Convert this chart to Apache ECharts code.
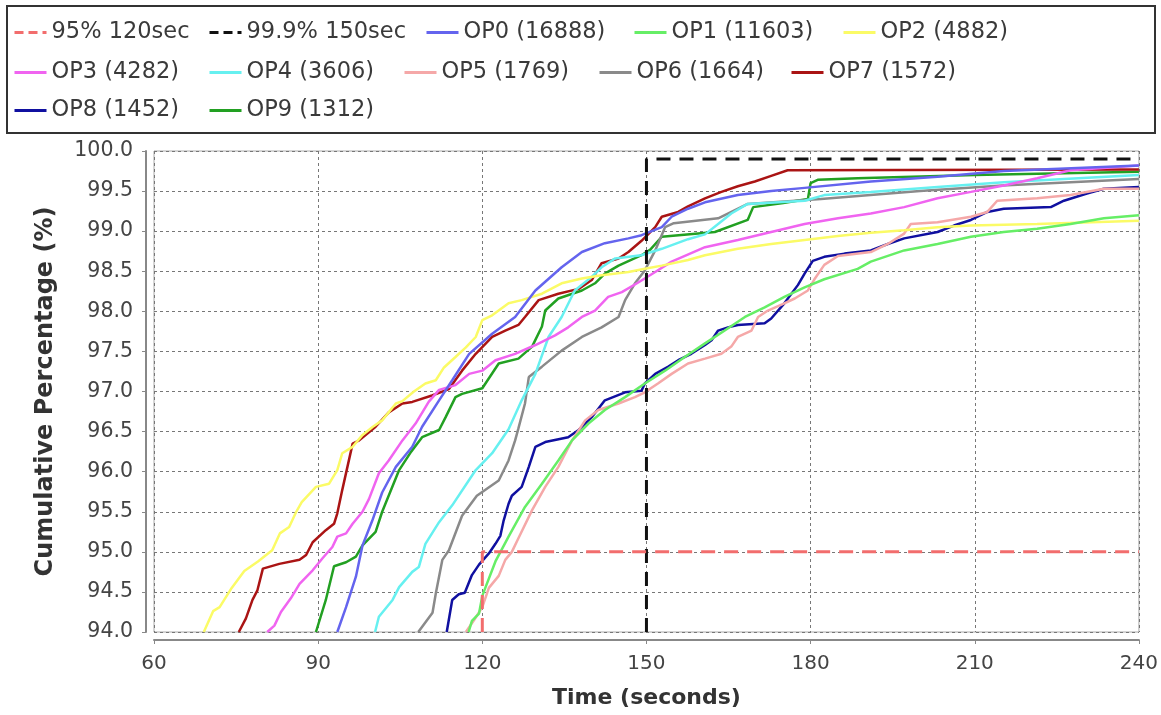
<!DOCTYPE html>
<html>
<head>
<meta charset="utf-8">
<script src="https://cdn.jsdelivr.net/npm/echarts@6/dist/echarts.min.js"></script>
<style>
html,body{margin:0;padding:0;background:#fff;}
#chart{width:1161px;height:715px;}
</style>
</head>
<body>
<div id="chart"></div>
<script>
// ---- data: [time (s), cumulative %] ----
const seriesNames = ['95% 120sec', '99.9% 150sec', 'OP0 (16888)', 'OP1 (11603)', 'OP2 (4882)', 'OP3 (4282)', 'OP4 (3606)', 'OP5 (1769)', 'OP6 (1664)', 'OP7 (1572)', 'OP8 (1452)', 'OP9 (1312)'];
const xTicks = [60, 90, 120, 150, 180, 210, 240];
const yTicks = [94.0, 94.5, 95.0, 95.5, 96.0, 96.5, 97.0, 97.5, 98.0, 98.5, 99.0, 99.5, 100.0];

const ref95 = [[120, 94], [120, 95], [240, 95]];
const ref999 = [[150, 94], [150, 99.9], [240, 99.9]];

const op0 = [[93.5,94.0],[95.1,94.31],[96.9,94.69],[98.1,95.08],[99.9,95.39],[101.7,95.74],[104.2,96.06],[107.2,96.31],[109,96.56],[112.1,96.89],[114.5,97.14],[117.6,97.47],[121.8,97.72],[126,97.93],[129.7,98.26],[134.5,98.55],[138.2,98.74],[142.4,98.85],[146.7,98.91],[149.1,98.95],[152.8,99.05],[154.6,99.18],[157.6,99.28],[160.7,99.36],[166.7,99.45],[172.8,99.5],[178.9,99.54],[191,99.62],[203.2,99.68],[215.3,99.75],[240,99.82]];
const op1 = [[117.5,94.0],[118.1,94.14],[119.4,94.23],[120,94.45],[120.6,94.56],[122.4,94.88],[124.8,95.19],[127.8,95.56],[130.9,95.85],[133.9,96.14],[136.4,96.39],[139.4,96.6],[142.4,96.77],[146.1,96.93],[149.7,97.1],[153.4,97.26],[157,97.43],[160.7,97.6],[164.3,97.76],[168,97.93],[171.6,98.05],[175.2,98.18],[178.9,98.3],[182.5,98.4],[188.6,98.53],[191,98.62],[197.1,98.76],[203.2,98.84],[209.3,98.93],[215.3,98.99],[221.4,99.03],[227.5,99.09],[233.6,99.16],[240,99.2]];
const op2 = [[69.1,94.0],[70.8,94.26],[72,94.31],[74.2,94.55],[76.5,94.76],[79,94.88],[81.6,95.02],[83,95.23],[84.7,95.31],[86,95.5],[87,95.62],[89.6,95.81],[92,95.85],[93.5,96.02],[94.4,96.23],[96.3,96.31],[98,96.45],[100,96.56],[101.7,96.64],[104.2,96.85],[105.4,96.88],[107.5,97.0],[109.6,97.1],[111.5,97.14],[113,97.3],[115.1,97.43],[117,97.55],[118.8,97.68],[120,97.89],[121.8,97.95],[124.8,98.1],[127.2,98.14],[130.9,98.22],[134.5,98.35],[138.2,98.41],[141.8,98.45],[146.7,98.49],[149.7,98.53],[152.8,98.57],[157.6,98.64],[160.7,98.7],[166.7,98.78],[172.8,98.84],[178.9,98.89],[185,98.94],[191,98.98],[197.1,99.01],[203.2,99.05],[209.3,99.07],[221.4,99.09],[240,99.13]];
const op3 = [[80.7,94.0],[82,94.08],[83.2,94.25],[85,94.42],[86.6,94.6],[89,94.77],[90.8,94.92],[92.6,95.06],[93.5,95.19],[95.1,95.23],[96.3,95.35],[98.1,95.5],[99.3,95.66],[101.1,95.98],[102.9,96.14],[105.4,96.39],[107.8,96.6],[110.2,96.87],[112.1,97.02],[115.1,97.08],[117.6,97.22],[120,97.26],[122.4,97.39],[126,97.47],[129.7,97.58],[133.3,97.7],[135.7,97.8],[138.2,97.93],[140.6,98.01],[143,98.18],[145.5,98.24],[148.5,98.36],[151.6,98.49],[154.6,98.62],[160.7,98.8],[166.7,98.89],[172.8,98.99],[178.9,99.09],[185,99.16],[191,99.22],[197.1,99.3],[203.2,99.41],[209.3,99.49],[215.3,99.57],[221.4,99.66],[227.5,99.76],[240,99.82]];
const op4 = [[100.4,94.0],[101.1,94.19],[103.6,94.4],[104.8,94.56],[107.2,94.75],[108.4,94.81],[109.6,95.1],[112.1,95.37],[114.5,95.58],[118.8,96.02],[121.8,96.23],[124.8,96.53],[127.2,96.89],[129.7,97.22],[132.1,97.68],[134.5,97.93],[136.9,98.26],[140,98.43],[141.8,98.55],[144.3,98.66],[149,98.7],[152.8,98.78],[157.6,98.9],[160.7,98.96],[163.1,99.09],[165.5,99.22],[168.5,99.34],[178.9,99.38],[182.5,99.45],[191,99.49],[203.2,99.55],[215.3,99.61],[240,99.7]];
const op5 = [[117.0,94.0],[118.5,94.15],[120,94.31],[121.2,94.55],[123,94.7],[124.2,94.9],[125.4,95.0],[126.6,95.17],[129.1,95.52],[131.5,95.81],[133.9,96.06],[136.4,96.39],[138.8,96.64],[141.2,96.77],[144.9,96.85],[147.9,96.93],[149.7,96.99],[152.1,97.1],[154.6,97.22],[157.6,97.35],[160.7,97.41],[163.7,97.47],[165.5,97.56],[166.7,97.68],[169.2,97.76],[170.4,97.93],[172.2,98.01],[175.2,98.1],[177.1,98.16],[179.5,98.26],[180.7,98.4],[182.5,98.58],[185,98.69],[191,98.74],[194.1,98.84],[197.1,98.97],[198.3,99.09],[203.2,99.11],[209.3,99.18],[212.3,99.24],[214.1,99.38],[221.4,99.41],[227.5,99.45],[233.6,99.53],[240,99.53]];
const op6 = [[108.3,94.0],[110.9,94.24],[111.5,94.48],[112.7,94.9],[113.9,95.02],[116.3,95.45],[119,95.7],[123,95.89],[124.8,96.14],[126,96.39],[126.6,96.54],[127.8,96.85],[128.5,97.18],[130.9,97.31],[134.5,97.51],[138.2,97.68],[141.8,97.8],[144.9,97.93],[146.1,98.14],[147.9,98.35],[149.7,98.51],[151.6,98.76],[153.4,99.05],[155,99.1],[163.1,99.16],[168.5,99.34],[181.9,99.4],[200,99.5],[215,99.57],[240,99.65]];
const op7 = [[75.5,94.0],[76.8,94.17],[78,94.4],[78.9,94.52],[79.9,94.79],[82.9,94.85],[86.6,94.9],[87.8,94.96],[89,95.12],[91.4,95.27],[92.9,95.35],[93.5,95.48],[94.4,95.77],[96.3,96.35],[97.5,96.39],[100.5,96.56],[102.9,96.74],[105.4,96.85],[107.2,96.87],[110.8,96.95],[113.9,97.03],[116.3,97.26],[118.8,97.47],[121.8,97.68],[124.2,97.76],[126.6,97.83],[127.8,97.93],[130.3,98.14],[133.9,98.22],[137.6,98.28],[140,98.39],[141.8,98.6],[144.9,98.66],[146.7,98.74],[149.1,98.88],[151.6,99.05],[152.8,99.18],[155.8,99.24],[157.6,99.31],[160.7,99.41],[163.7,99.49],[166.7,99.56],[169.8,99.62],[172.8,99.69],[175.8,99.76],[240,99.77]];
const op8 = [[113.5,94.0],[114.5,94.4],[115.7,94.47],[116.8,94.49],[118.1,94.71],[119.4,94.84],[121.2,94.98],[122.4,95.1],[123.3,95.2],[123.9,95.39],[124.8,95.6],[125.4,95.7],[127.2,95.81],[128.5,96.06],[129.7,96.31],[131.5,96.37],[135.7,96.43],[137.6,96.52],[140,96.68],[142.4,96.89],[146.1,96.99],[149.1,97.01],[149.7,97.1],[151.6,97.22],[154,97.31],[155.8,97.39],[158.2,97.47],[160.7,97.58],[161.9,97.64],[163.1,97.76],[164.9,97.8],[166.7,97.83],[171.6,97.85],[172.8,97.91],[175.2,98.1],[177.7,98.33],[178.9,98.47],[180.4,98.63],[182.5,98.68],[186.2,98.72],[191,98.76],[194.1,98.84],[197.1,98.91],[203.2,98.99],[206.2,99.07],[209.3,99.14],[212.3,99.24],[215.3,99.28],[223.9,99.3],[226.3,99.38],[230.5,99.47],[233.6,99.53],[240,99.55]];
const op9 = [[89.6,94.0],[91.4,94.4],[92.9,94.82],[95.1,94.87],[96.9,94.94],[98.1,95.08],[100.5,95.25],[101.7,95.5],[104.8,96.02],[107,96.25],[109,96.43],[112.1,96.52],[113.3,96.68],[115.1,96.93],[116.3,96.97],[120,97.04],[123,97.35],[126.6,97.41],[129.1,97.56],[130.9,97.81],[131.5,98.01],[133.9,98.16],[138.2,98.26],[140.6,98.35],[142.4,98.47],[144.9,98.57],[149.1,98.7],[150.7,98.77],[152.8,98.93],[162.5,98.99],[168.5,99.14],[169.5,99.3],[175,99.35],[179.5,99.4],[180,99.6],[181.3,99.64],[188.6,99.66],[210,99.7],[240,99.74]];

// ---- styling ----
const seriesData = [ref95, ref999, op0, op1, op2, op3, op4, op5, op6, op7, op8, op9];
const colors = ['#f26d6d', '#111111', '#6464ee', '#66ee66', '#fbfb66', '#f064f0', '#66f0f0', '#f5a8a8', '#8a8a8a', '#aa1414', '#1010a0', '#22a022'];
const legendPos = [
  [13, 21], [208, 21], [425, 21], [633, 21], [842, 21],
  [13, 61], [208, 61], [403, 61], [598, 61], [790, 61],
  [13, 99], [208, 99]
];

const series = [];
for (let i = seriesData.length - 1; i >= 0; i--) {
  const dashed = i < 2;
  series.push({
    name: seriesNames[i],
    type: 'line',
    data: seriesData[i],
    symbol: 'none',
    showSymbol: false,
    clip: true,
    animation: false,
    z: 2 + (seriesData.length - i),
    lineStyle: {
      color: colors[i],
      width: dashed ? 3 : 2.5,
      type: dashed ? [14, 9] : 'solid'
    },
    itemStyle: { color: colors[i] }
  });
}

const legends = seriesNames.map((n, i) => ({
  data: [n],
  left: legendPos[i][0],
  top: legendPos[i][1],
  itemWidth: 32,
  itemHeight: 14,
  selectedMode: false,
  padding: 0,
  itemStyle: { opacity: 0, borderWidth: 0 },
  lineStyle: { color: colors[i], width: 3, type: i < 2 ? [9, 5] : 'solid', opacity: 1 },
  textStyle: { fontFamily: 'DejaVu Sans', fontSize: 22.5, color: '#3a3a3a' }
}));

const chart = echarts.init(document.getElementById('chart'), null, { renderer: 'canvas' });
chart.setOption({
  backgroundColor: '#ffffff',
  animation: false,
  legend: legends,
  graphic: [{
    type: 'rect',
    shape: { x: 7, y: 6, width: 1148, height: 127 },
    style: { fill: 'none', stroke: '#333333', lineWidth: 2 },
    silent: true
  }],
  grid: {
    left: 154, right: 21, top: 151, bottom: 83,
    show: true, borderColor: '#aaaaaa', borderWidth: 1, backgroundColor: '#ffffff'
  },
  xAxis: {
    type: 'value',
    min: xTicks[0], max: xTicks[xTicks.length - 1], interval: 30,
    offset: 8,
    name: 'Time (seconds)',
    nameLocation: 'middle',
    nameGap: 47,
    nameTextStyle: { fontFamily: 'DejaVu Sans', fontWeight: 'bold', fontSize: 22, color: '#333' },
    axisLine: { show: true, lineStyle: { color: '#888', width: 2 } },
    axisTick: { show: true, length: 4, lineStyle: { color: '#888' } },
    axisLabel: { fontFamily: 'DejaVu Sans', fontSize: 20, color: '#444', margin: 14 },
    splitLine: { show: true, lineStyle: { color: '#777', type: [3, 3], width: 1 } }
  },
  yAxis: {
    type: 'value',
    min: yTicks[0], max: yTicks[yTicks.length - 1], interval: 0.5,
    offset: 8,
    name: 'Cumulative Percentage (%)',
    nameLocation: 'middle',
    nameRotate: 90,
    nameGap: 88,
    nameTextStyle: { fontFamily: 'DejaVu Sans', fontWeight: 'bold', fontSize: 24, color: '#333' },
    axisLine: { show: true, lineStyle: { color: '#888', width: 2 } },
    axisTick: { show: true, length: 4, lineStyle: { color: '#888' } },
    axisLabel: { fontFamily: 'DejaVu Sans', fontSize: 20.5, color: '#444', margin: 13,
      formatter: v => v.toFixed(1) },
    splitLine: { show: true, lineStyle: { color: '#777', type: [3, 3], width: 1 } }
  },
  series: series
});
</script>
</body>
</html>
